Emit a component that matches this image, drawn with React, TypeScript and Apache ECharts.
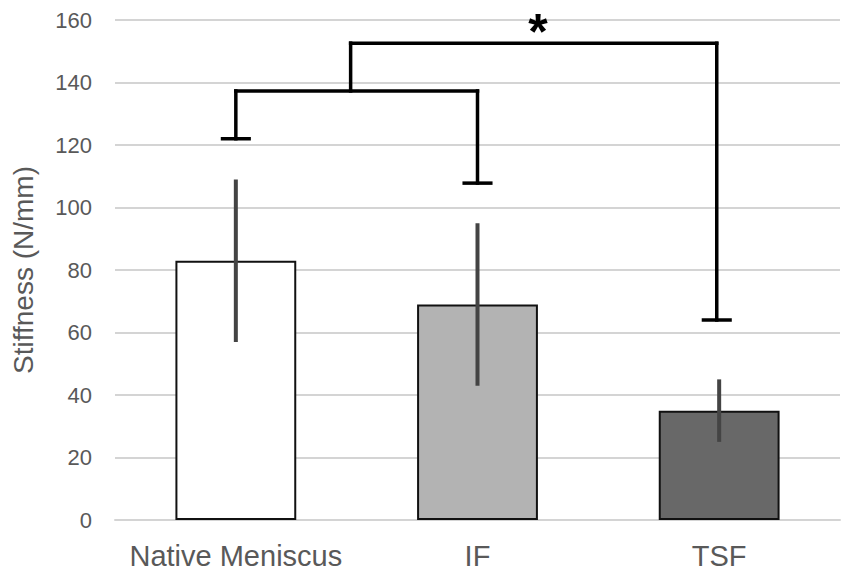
import React, { useEffect, useRef } from "react";
import * as echarts from "echarts";

const categories = ["Native Meniscus", "IF", "TSF"];
const means = [83, 69, 35];
const errLow = [57, 43, 25];
const errHigh = [109, 95, 45];
const barColors = ["#ffffff", "#b3b3b3", "#686868"];
const yTicks = { min: 0, max: 160, interval: 20 };

// Significance bracket segments: [x1, y1, x2, y2] (x in category index units)
const bracketSegments = [
  [0, 122, 0, 137.3],
  [-0.055, 122, 0.055, 122],
  [1, 107.8, 1, 137.3],
  [0.945, 107.8, 1.055, 107.8],
  [0, 137.3, 1, 137.3],
  [0.475, 137.3, 0.475, 152.6],
  [0.475, 152.6, 1.99, 152.6],
  [1.99, 152.6, 1.99, 64],
  [1.935, 64, 2.045, 64],
];
const starLabel = { x: 1.25, y: 156.3, text: "*" };

export default function App() {
  const ref = useRef<HTMLDivElement>(null);
  useEffect(() => {
    if (!ref.current) return;
    const chart = echarts.init(ref.current, undefined, { renderer: "svg" });
    const font = "Liberation Sans, Arial, sans-serif";
    chart.setOption({
      animation: false,
      backgroundColor: "#ffffff",
      grid: { left: 115, right: 2, top: 20, bottom: 52, containLabel: false, outerBoundsMode: "none" },
      xAxis: [
        {
          type: "category",
          data: categories,
          axisLine: { show: true, lineStyle: { color: "#d4d4d4", width: 2 } },
          axisTick: { show: false },
          axisLabel: { color: "#595959", fontSize: 29, fontFamily: font, margin: 21, interval: 0 },
        },
        {
          type: "value",
          min: -0.5,
          max: 2.5,
          show: false,
        },
      ],
      yAxis: {
        type: "value",
        min: yTicks.min,
        max: yTicks.max,
        interval: yTicks.interval,
        name: "Stiffness (N/mm)",
        nameLocation: "middle",
        nameGap: 78,
        nameTextStyle: { color: "#595959", fontSize: 28, fontFamily: font },
        axisLine: { show: false },
        axisTick: { show: false },
        axisLabel: { color: "#595959", fontSize: 22, fontFamily: font, margin: 23 },
        splitLine: { lineStyle: { color: "#d4d4d4", width: 2 } },
      },
      series: [
        {
          type: "bar",
          xAxisIndex: 0,
          barWidth: "50%",
          data: means.map((v, i) => ({
            value: v,
            itemStyle: { color: barColors[i], borderColor: "#111111", borderWidth: 2 },
          })),
          z: 2,
        },
        {
          type: "custom",
          xAxisIndex: 0,
          z: 3,
          data: means.map((_, i) => [i, errLow[i], errHigh[i]]),
          renderItem: (params: any, api: any) => {
            const lo = api.coord([api.value(0), api.value(1)]);
            const hi = api.coord([api.value(0), api.value(2)]);
            return {
              type: "line",
              shape: { x1: lo[0], y1: lo[1], x2: hi[0], y2: hi[1] },
              style: { stroke: "#444444", lineWidth: 4 },
            };
          },
        },
        {
          type: "custom",
          xAxisIndex: 1,
          z: 4,
          data: bracketSegments,
          renderItem: (params: any, api: any) => {
            const a = api.coord([api.value(0), api.value(1)]);
            const b = api.coord([api.value(2), api.value(3)]);
            return {
              type: "line",
              shape: { x1: a[0], y1: a[1], x2: b[0], y2: b[1] },
              style: { stroke: "#000000", lineWidth: 3.5, lineCap: "square" },
            };
          },
        },
        {
          type: "custom",
          xAxisIndex: 1,
          z: 5,
          data: [[starLabel.x, starLabel.y]],
          renderItem: (params: any, api: any) => {
            const p = api.coord([api.value(0), api.value(1)]);
            return {
              type: "text",
              x: p[0],
              y: p[1],
              style: {
                text: starLabel.text,
                fill: "#000000",
                font: "bold 50px Liberation Sans, Arial, sans-serif",
                align: "center",
                verticalAlign: "middle",
              },
            };
          },
        },
      ],
    });
    return () => chart.dispose();
  }, []);
  return <div ref={ref} style={{ width: 842, height: 572, position: "absolute", left: 0, top: 0 }} />;
}
